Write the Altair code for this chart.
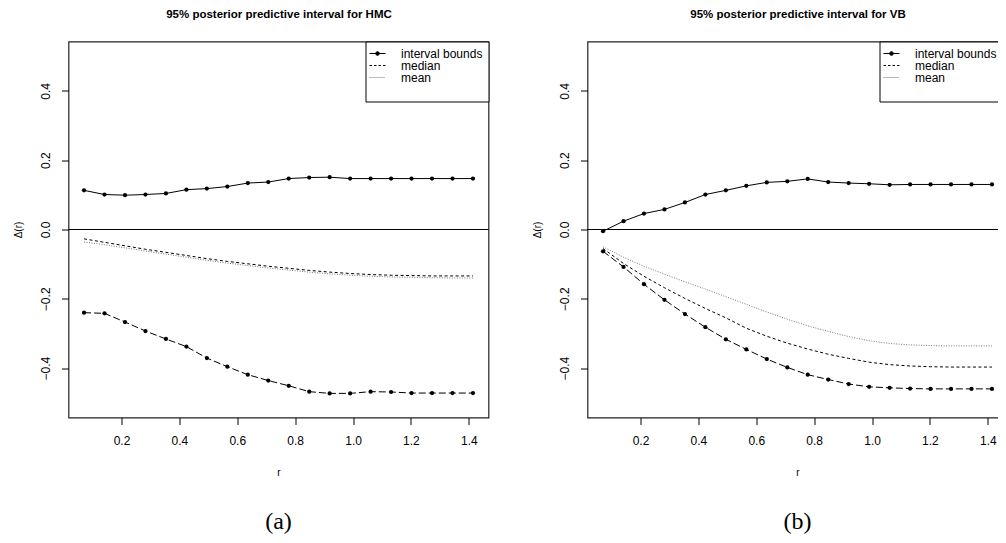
import altair as alt
import pandas as pd

# ---------------- data ----------------
r = [0.0707, 0.1414, 0.2121, 0.2828, 0.3536, 0.4243, 0.4950, 0.5657, 0.6364, 0.7071,
     0.7778, 0.8485, 0.9192, 0.9899, 1.0607, 1.1314, 1.2021, 1.2728, 1.3435, 1.4142]

hmc_upper = [0.113, 0.101, 0.099, 0.101, 0.104, 0.115, 0.118, 0.124, 0.134, 0.137,
             0.147, 0.150, 0.151, 0.147, 0.147, 0.147, 0.147, 0.147, 0.147, 0.147]
hmc_lower = [-0.240, -0.242, -0.267, -0.293, -0.316, -0.338, -0.371, -0.396, -0.419, -0.436,
             -0.451, -0.468, -0.473, -0.473, -0.468, -0.469, -0.472, -0.472, -0.472, -0.472]
hmc_median = [-0.027, -0.037, -0.047, -0.057, -0.066, -0.075, -0.084, -0.092, -0.099, -0.106,
              -0.112, -0.118, -0.123, -0.127, -0.130, -0.132, -0.133, -0.134, -0.134, -0.134]
hmc_mean = [-0.036, -0.044, -0.053, -0.062, -0.071, -0.080, -0.089, -0.097, -0.104, -0.111,
            -0.117, -0.123, -0.128, -0.132, -0.135, -0.137, -0.138, -0.139, -0.140, -0.140]

vb_upper = [-0.005, 0.024, 0.046, 0.058, 0.078, 0.101, 0.113, 0.126, 0.136, 0.139,
            0.146, 0.137, 0.134, 0.132, 0.129, 0.130, 0.130, 0.130, 0.130, 0.130]
vb_lower = [-0.063, -0.108, -0.158, -0.203, -0.244, -0.282, -0.317, -0.346, -0.374, -0.398,
            -0.419, -0.433, -0.446, -0.454, -0.457, -0.459, -0.460, -0.460, -0.460, -0.460]
vb_median = [-0.055, -0.098, -0.135, -0.168, -0.199, -0.228, -0.255, -0.285, -0.308, -0.328,
             -0.345, -0.360, -0.372, -0.383, -0.390, -0.394, -0.396, -0.397, -0.397, -0.397]
vb_mean = [-0.050, -0.080, -0.106, -0.129, -0.151, -0.172, -0.194, -0.216, -0.238, -0.259,
           -0.278, -0.294, -0.309, -0.321, -0.329, -0.333, -0.335, -0.336, -0.336, -0.336]

titles = ["95% posterior predictive interval for HMC", "95% posterior predictive interval for VB"]
captions = ["(a)", "(b)"]
x_ticks = [0.2, 0.4, 0.6, 0.8, 1.0, 1.2, 1.4]
y_ticks = [-0.4, -0.2, 0.0, 0.2, 0.4]
legend_labels = ["interval bounds", "median", "mean", " "]

# ---------------- styling ----------------
W, H = 420, 376
X_DOMAIN = [0.0170, 1.4679]
Y_DOMAIN = [-0.5426, 0.5426]
FONT = "Liberation Sans"
SVG_W, SVG_H = 990, 526
PAD_L, PAD_T = 60.5, 33.5

# legend symbols as custom paths (unit = sqrt(size)/2 px)
sym_bounds = ("M-1.455,0L1.455,0M-0.33,0A0.33,0.33,0,1,0,0.33,0"
              "A0.33,0.33,0,1,0,-0.33,0Z")
sym_median = "M-1.455,0L-1,0M-0.636,0L-0.182,0M0.182,0L0.636,0M1,0L1.455,0"
sym_mean = ("M-1.455,0L-1.273,0M-1.091,0L-0.909,0M-0.727,0L-0.545,0M-0.364,0L-0.182,0"
            "M0,0L0.182,0M0.364,0L0.545,0M0.727,0L0.909,0M1.091,0L1.273,0")
sym_blank = "M0,0"


def panel(title, caption, upper, lower, median, mean, legend_pos):
    n = len(r)
    df = pd.DataFrame({
        "r": r * 4,
        "value": upper + lower + median + mean,
        "series": ["upper"] * n + ["lower"] * n + ["median"] * n + ["mean"] * n,
    })
    base = alt.Chart(df)
    xs = alt.Scale(domain=X_DOMAIN, nice=False, zero=False)
    ys = alt.Scale(domain=Y_DOMAIN, nice=False, zero=False)

    x_axis = alt.Axis(values=x_ticks, format=".1f", tickSize=7, tickColor="black",
                      labelFont=FONT, labelFontSize=12, labelColor="black", labelPadding=11,
                      title="r", titleFont=FONT, titleFontSize=10, titleFontWeight="normal",
                      titleColor="black", titleX=W / 2, titleY=58, titleAlign="center",
                      titleBaseline="alphabetic", domain=False, grid=False, labelFlush=False)
    y_axis = alt.Axis(values=y_ticks, format=".1f", tickSize=7, tickColor="black",
                      labelFont=FONT, labelFontSize=12, labelColor="black", labelPadding=9,
                      labelAngle=270, labelAlign="center", labelBaseline="bottom",
                      title="Δ(r)", titleFont=FONT, titleFontSize=10, titleFontWeight="normal",
                      titleColor="black", titleAngle=270, titleX=-50, titleY=H / 2,
                      titleAlign="center", titleBaseline="middle",
                      domain=False, grid=False, labelFlush=False)
    top_axis = alt.Axis(orient="top", labels=False, ticks=False, domain=False, grid=False,
                        title=title, titleFont=FONT, titleFontSize=11.5, titleFontWeight="bold",
                        titleColor="black", titleX=W / 2, titleY=-24, titleAlign="center",
                        titleBaseline="alphabetic")

    zero = alt.Chart(pd.DataFrame({"h": [0.0]})).mark_rule(color="black", strokeWidth=1).encode(
        y=alt.Y("h:Q", scale=ys, axis=None))

    up_line = base.transform_filter("datum.series == 'upper'").mark_line(
        color="black", strokeWidth=1).encode(
        x=alt.X("r:Q", scale=xs, axis=x_axis),
        y=alt.Y("value:Q", scale=ys, axis=y_axis))
    lo_line = base.transform_filter("datum.series == 'lower'").mark_line(
        color="black", strokeWidth=1, strokeDash=[7, 3]).encode(
        x=alt.X("r:Q", scale=xs, axis=None),
        y=alt.Y("value:Q", scale=ys, axis=None))
    med_line = base.transform_filter("datum.series == 'median'").mark_line(
        color="black", strokeWidth=1, strokeDash=[3, 2.5]).encode(
        x=alt.X("r:Q", scale=xs, axis=None),
        y=alt.Y("value:Q", scale=ys, axis=None))
    mean_line = base.transform_filter("datum.series == 'mean'").mark_line(
        color="#777777", strokeWidth=1, strokeDash=[1, 1.5]).encode(
        x=alt.X("r:Q", scale=xs, axis=None),
        y=alt.Y("value:Q", scale=ys, axis=None))
    pts = base.transform_filter("datum.series == 'upper' || datum.series == 'lower'").mark_circle(
        size=18, color="black", opacity=1).encode(
        x=alt.X("r:Q", scale=xs, axis=None),
        y=alt.Y("value:Q", scale=ys, axis=None))

    title_layer = alt.Chart(pd.DataFrame({"r": pd.Series([], dtype=float)})).mark_point(
        opacity=0).encode(x=alt.X("r:Q", scale=xs, axis=top_axis))

    leg = alt.Legend(title=None, strokeColor="black", fillColor="white", padding=6,
                     symbolSize=121, symbolStrokeWidth=1, labelOffset=17.5,
                     labelFont=FONT, labelFontSize=12, labelColor="black",
                     rowPadding=0, labelLimit=300, **legend_pos)
    leg_df = pd.DataFrame({"series": pd.Series([], dtype=str)})
    leg_colors = ["black", "black", "#777777", "white"]
    legend_layer = alt.Chart(leg_df).mark_point(filled=True, opacity=1, strokeWidth=1).encode(
        shape=alt.Shape("series:N", legend=leg,
                        scale=alt.Scale(domain=legend_labels,
                                        range=[sym_bounds, sym_median, sym_mean, sym_blank])),
        stroke=alt.Stroke("series:N", legend=leg,
                          scale=alt.Scale(domain=legend_labels, range=leg_colors)),
        fill=alt.Fill("series:N", legend=leg,
                      scale=alt.Scale(domain=legend_labels, range=leg_colors)),
    )

    return alt.layer(zero, up_line, lo_line, med_line, mean_line, pts, title_layer,
                     legend_layer).resolve_axis(x="independent", y="independent").properties(
        width=W, height=H,
        view=alt.ViewBackground(stroke="#222222", strokeWidth=1.2),
        title=alt.TitleParams(caption, orient="bottom", anchor="middle", frame="group",
                              font="Liberation Serif", fontSize=24, fontWeight="normal",
                              color="black", offset=32))


left = panel(titles[0], captions[0], hmc_upper, hmc_lower, hmc_median, hmc_mean,
             {"orient": "top-right", "offset": 0})
right = panel(titles[1], captions[1], vb_upper, vb_lower, vb_median, vb_mean,
              {"orient": "none", "legendX": 292, "legendY": 0})

chart = alt.hconcat(left, right, spacing=99, bounds="flush").resolve_scale(
    x="independent", y="independent", shape="independent", stroke="independent",
    fill="independent").resolve_legend(
    shape="independent", stroke="independent", fill="independent").properties(
    autosize=alt.AutoSizeParams(type="none"),
    padding={"left": PAD_L, "top": PAD_T, "right": SVG_W - PAD_L, "bottom": SVG_H - PAD_T},
    background="white").configure_view(stroke="#222222", strokeWidth=1.2).configure(
    font=FONT)

chart.save("out.html", embed_options={"renderer": "svg", "actions": False})
